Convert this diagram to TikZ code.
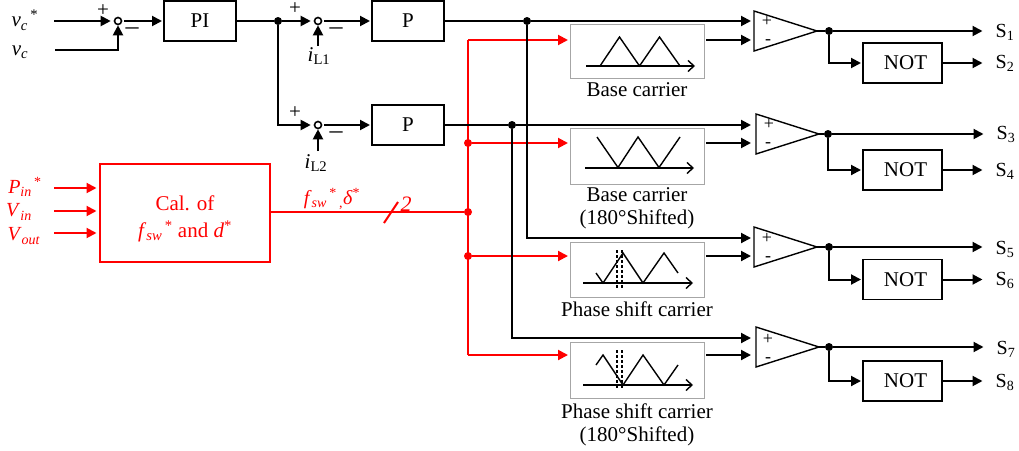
\documentclass[tikz,border=0pt]{standalone}
\usepackage{fontspec}
\setmainfont{Liberation Serif}
\usepackage{tikz}
\usetikzlibrary{positioning,arrows.meta,shapes.geometric}
\definecolor{CarrGray}{HTML}{A6A6A6}
\definecolor{CtrlRed}{HTML}{FF0000}
\newcommand{\itsub}[2]{\textit{#1}\textsubscript{\textit{#2}}}
\newcommand{\rmsub}[2]{\textit{#1}\textsubscript{#2}}
\newcommand{\starmark}{\textsuperscript{\,*}}

\begin{document}
\begin{tikzpicture}[
  x=1pt, y=-1pt,
  font=\fontsize{21}{23}\selectfont,
  ctrlbox/.style={draw, line width=1.7pt, minimum height=40pt, minimum width=72pt, inner sep=0pt, outer sep=0pt},
  notbox/.style={draw, line width=1.7pt, minimum height=40pt, minimum width=79pt, inner sep=0pt, outer sep=0pt},
  carrbox/.style={draw=CarrGray, line width=1pt, minimum width=134pt, inner sep=0pt, outer sep=0pt},
  calcbox/.style={draw=CtrlRed, line width=1.7pt, minimum height=98pt, minimum width=170pt, inner sep=0pt, outer sep=0pt},
  cmptri/.style={draw, line width=1.4pt, isosceles triangle, isosceles triangle stretches, minimum width=40pt, minimum height=63pt, inner sep=0pt, outer sep=0pt, anchor=apex},
  sumdot/.style={draw, circle, fill=white, line width=1.6pt, minimum size=7pt, inner sep=0pt},
  jdot/.style={circle, fill=black, minimum size=8pt, inner sep=0pt},
  jred/.style={circle, fill=CtrlRed, minimum size=8pt, inner sep=0pt},
  sigline/.style={line width=2pt},
  sigarrow/.style={-{Triangle[length=10pt,width=10pt]}, line width=2pt, shorten >=2pt},
  redline/.style={CtrlRed, line width=2pt},
  redarrow/.style={-{Triangle[length=10pt,width=10pt]}, CtrlRed, line width=2pt, shorten >=2pt},
  axisarrow/.style={-{Straight Barb[length=6pt,width=11pt]}, line width=1.4pt},
  wavedash/.style={line width=1.4pt, dash pattern=on 2.5pt off 2.5pt},
  outlabel/.style={inner xsep=11pt, inner ysep=0pt, font=\fontsize{20}{22}\selectfont},
  carrlabel/.style={inner sep=0pt, align=center},
  sgnlabel/.style={inner sep=0pt},
  cmpmark/.style={inner sep=0pt, font=\fontsize{18}{19}\selectfont},
  summinus/.style={inner sep=0pt, font=\fontsize{26}{26}\selectfont}
]
\useasboundingbox (0,0) rectangle (1019,450);
% control path
\node[sumdot] (suma) at (118,21) {};
\node[ctrlbox] (pibox) at (200,21) {PI};
\node[jdot] (jpi) at (278,21) {};
\node[sumdot] (sumb) at (318,21) {};
\node[ctrlbox, right=136pt of pibox] (pboxa) {P};
\node[ctrlbox, below=64pt of pboxa] (pboxb) {P};
\node[sumdot] (sumc) at (318,125) {};
\node[jdot] (jpa) at (527,21) {};
\node[jdot] (jpb) at (512,125) {};
\coordinate (vrefin) at (54,21);
\coordinate (vfbin) at (55,50);
\coordinate (ilain) at (318,46);
\coordinate (ilbin) at (318,151);
\node[sgnlabel] (vref) at (25,20) {\itsub{v}{c}\starmark};
\node[sgnlabel] (vfb) at (20,52) {\itsub{v}{c}};
\node[sgnlabel] (ila) at (319,56) {\rmsub{i}{L1}};
\node[sgnlabel] (ilb) at (316,163) {\rmsub{i}{L2}};
\node[sgnlabel] (plusa) at (103,11) {+};
\node[summinus] (minusa) at (132,31) {–};
\node[sgnlabel] (plusb) at (295,9) {+};
\node[summinus] (minusb) at (336,31) {–};
\node[sgnlabel] (plusc) at (295,113) {+};
\node[summinus] (minusc) at (336,135) {–};
% carriers
\node[carrbox, minimum height=54pt] (carra) at (637,51) {};
\node[carrbox, minimum height=56pt] (carrb) at (637,156) {};
\node[carrbox, minimum height=55pt] (carrc) at (637,269.5) {};
\node[carrbox, minimum height=56pt] (carrd) at (637,370) {};
\node[carrlabel, below=4pt of carra] (carralabel) {Base carrier};
\node[carrlabel, below=3pt of carrb] (carrblabel) {Base carrier\\(180°Shifted)};
\node[carrlabel, below=5pt of carrc] (carrclabel) {Phase shift carrier};
\node[carrlabel, below=6pt of carrd] (carrdlabel) {Phase shift carrier\\(180°Shifted)};
% comparators
\node[cmptri] (cmpa) at (817,31) {};
\node[cmptri] (cmpb) at (819,134) {};
\node[cmptri] (cmpc) at (817,247) {};
\node[cmptri] (cmpd) at (819,347) {};
\node[cmpmark] at (767,21) {+};
\node[cmpmark] at (768,42) {-};
\node[cmpmark] at (769,124) {+};
\node[cmpmark] at (768,145) {-};
\node[cmpmark] at (767,238) {+};
\node[cmpmark] at (768,259) {-};
\node[cmpmark] at (768,339) {+};
\node[cmpmark] at (768,360) {-};
\coordinate (ina) at (753,21);
\coordinate (inb) at (753,125);
\coordinate (inc) at (753,238);
\coordinate (ind) at (753,338);
\coordinate (busa) at (468,40);
\coordinate (busd) at (468,355);
\node[jred] (busb) at (468,143) {};
\node[jred] (bust) at (468,212) {};
\node[jred] (busc) at (468,256) {};
\coordinate (outa) at (706,40);
\coordinate (outb) at (706,143);
\coordinate (outc) at (706,256);
\coordinate (outd) at (706,355);
\coordinate (cina) at (753,40);
\coordinate (cinb) at (753,143);
\coordinate (cinc) at (753,256);
\coordinate (cind) at (753,355);
\node[jdot] (jca) at (829,31) {};
\node[jdot] (jcb) at (828,134) {};
\node[jdot] (jcc) at (829,247) {};
\node[jdot] (jcd) at (829,347) {};
\node[notbox] (nota) at (902.5,63) {\hspace*{6pt}NOT};
\node[notbox] (notb) at (902.5,170) {\hspace*{6pt}NOT};
\node[notbox] (notc) at (902.5,279.5) {\hspace*{6pt}NOT};
\node[notbox] (notd) at (902.5,381) {\hspace*{6pt}NOT};
\node[outlabel] (sa) at (1005,32) {S\textsubscript{1}};
\node[outlabel] (sb) at (1005,63) {S\textsubscript{2}};
\node[outlabel] (sc) at (1006,134) {S\textsubscript{3}};
\node[outlabel] (sd) at (1005,171) {S\textsubscript{4}};
\node[outlabel] (se) at (1005,249) {S\textsubscript{5}};
\node[outlabel] (sf) at (1005,280) {S\textsubscript{6}};
\node[outlabel] (sg) at (1006,349) {S\textsubscript{7}};
\node[outlabel] (sh) at (1005,382) {S\textsubscript{8}};
% red block
\node[calcbox] (calc) at (185,212.75) {};
\node[sgnlabel, align=center, text=CtrlRed] (calclabel) at (185,219) {Cal. of\\[4pt]\itsub{f}{sw}\starmark{} and \textit{d}\textsuperscript{*}};
\coordinate (pinin) at (54,188);
\coordinate (vinin) at (54,211);
\coordinate (voutin) at (54,233);
\node[sgnlabel, text=CtrlRed, font=\fontsize{20}{22}\selectfont] (pinlabel) at (25,187) {\itsub{P}{in}\starmark};
\node[sgnlabel, text=CtrlRed, font=\fontsize{20}{22}\selectfont] (vinlabel) at (19,212) {\itsub{V}{in}};
\node[sgnlabel, text=CtrlRed, font=\fontsize{20}{22}\selectfont] (voutlabel) at (24,236) {\itsub{V}{out}};
\node[sgnlabel, text=CtrlRed, font=\fontsize{20}{22}\selectfont] (fdlabel) at (332,199) {\itsub{f}{sw}\starmark\textsubscript{\,,}\textit{δ}\textsuperscript{*}};
\node[sgnlabel, text=CtrlRed, font=\fontsize{22}{24}\selectfont] (twolabel) at (406,204) {\textit{2}};
\coordinate (slasha) at (384,223);
\coordinate (slashb) at (398,202);
% red wires
\draw[redline] (calc.east |- bust) -- (bust);
\draw[redline] (slasha) -- (slashb);
\draw[redline] (busa) -- (busd);
\draw[redarrow] (busa) -- (busa -| carra.west);
\draw[redarrow] (busb) -- (busb -| carrb.west);
\draw[redarrow] (busc) -- (busc -| carrc.west);
\draw[redarrow] (busd) -- (busd -| carrd.west);
\draw[redarrow, shorten >=3.5pt] (pinin) -- (pinin -| calc.west);
\draw[redarrow, shorten >=3.5pt] (vinin) -- (vinin -| calc.west);
\draw[redarrow, shorten >=3.5pt] (voutin) -- (voutin -| calc.west);
% black wires
\draw[sigarrow, shorten >=3pt] (vrefin) -- (suma);
\draw[sigarrow, shorten >=0pt] (vfbin) -| (suma);
\draw[sigarrow, shorten <=2pt] (suma) -- (pibox);
\draw[sigline] (pibox) -- (jpi);
\draw[sigarrow, shorten >=3pt] (jpi) -- (sumb);
\draw[sigarrow, shorten <=2pt] (sumb) -- (pboxa);
\draw[sigarrow, shorten >=3pt] (jpi) |- (sumc);
\draw[sigarrow, shorten <=2pt] (sumc) -- (pboxb);
\draw[sigarrow, shorten >=0pt] (ilain) -- (sumb);
\draw[sigarrow, shorten >=0pt] (ilbin) -- (sumc);
\draw[sigline] (pboxa) -- (jpa);
\draw[sigline] (pboxb) -- (jpb);
\draw[sigarrow] (jpa) -- (ina);
\draw[sigarrow] (jpb) -- (inb);
\draw[sigarrow] (jpa) |- (inc);
\draw[sigarrow] (jpb) |- (ind);
\draw[sigarrow] (outa) -- (cina);
\draw[sigarrow] (outb) -- (cinb);
\draw[sigarrow] (outc) -- (cinc);
\draw[sigarrow] (outd) -- (cind);
\draw[sigline] (cmpa.apex) -- (jca);
\draw[sigline] (cmpb.apex) -- (jcb);
\draw[sigline] (cmpc.apex) -- (jcc);
\draw[sigline] (cmpd.apex) -- (jcd);
\draw[sigarrow] (jca) -- (jca -| sa.west);
\draw[sigarrow] (jcb) -- (jcb -| sc.west);
\draw[sigarrow] (jcc) -- (jcc -| se.west);
\draw[sigarrow] (jcd) -- (jcd -| sg.west);
\draw[sigarrow] (jca) |- (nota);
\draw[sigarrow] (jcb) |- (notb);
\draw[sigarrow] (jcc) |- (notc);
\draw[sigarrow] (jcd) |- (notd);
\draw[sigarrow] (nota) -- (nota -| sb.west);
\draw[sigarrow] (notb) -- (notb -| sd.west);
\draw[sigarrow] (notc) -- (notc -| sf.west);
\draw[sigarrow] (notd) -- (notd -| sh.west);
% carrier waves
\draw[axisarrow] (586,66) -- (695,66);
\draw[line width=1.4pt] (600,66) -- (619.5,37) -- (639.5,66) -- (659.5,37) -- (680,66);
\draw[axisarrow] (585,168) -- (694,168);
\draw[line width=1.4pt] (597,137) -- (618,167.5) -- (638,137) -- (659,167.5) -- (680,137);
\draw[axisarrow] (583,283) -- (693,283);
\draw[line width=1.4pt] (596,273) -- (603,283) -- (623,253) -- (643,283) -- (664,253) -- (678,273);
\draw[wavedash] (617,250) -- (617,288);
\draw[wavedash] (622,250) -- (622,288);
\draw[axisarrow] (583,385) -- (693,385);
\draw[line width=1.4pt] (596,365) -- (603,355) -- (623,385) -- (643,355) -- (664,385) -- (678,365);
\draw[wavedash] (617,350) -- (617,388);
\draw[wavedash] (622,350) -- (622,388);
\end{tikzpicture}
\end{document}
